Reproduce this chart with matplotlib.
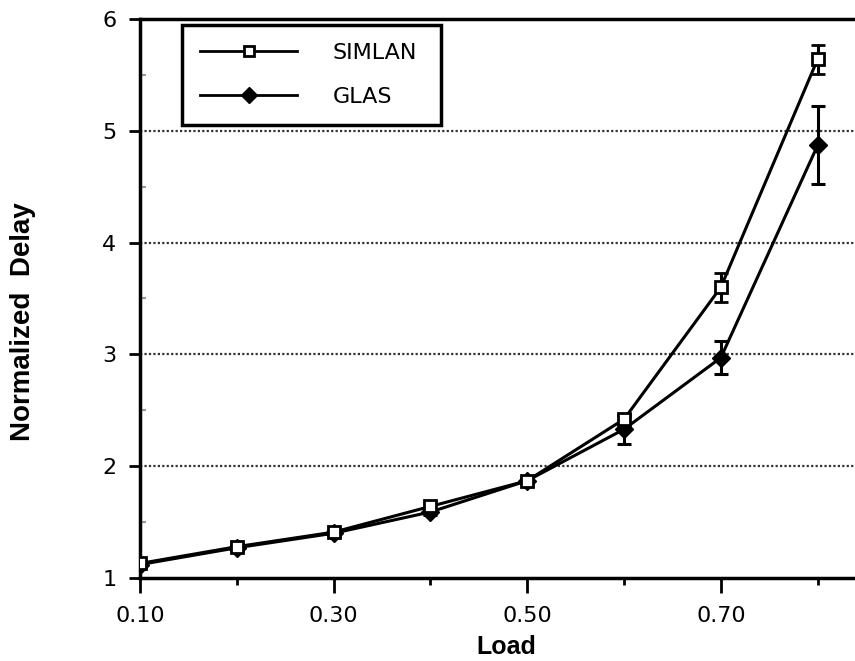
import numpy as np
import matplotlib
matplotlib.use('Agg')
import matplotlib.pyplot as plt
from matplotlib.lines import Line2D
from matplotlib.ticker import FixedLocator, MultipleLocator, FormatStrFormatter

# load values
load = [0.1, 0.2, 0.3, 0.4, 0.5, 0.6, 0.7, 0.8]
simlan = [1.13, 1.28, 1.41, 1.64, 1.87, 2.42, 3.60, 5.64]
simlan_err = [0.02, 0.02, 0.02, 0.03, 0.02, 0.04, 0.13, 0.13]
glas = [1.12, 1.27, 1.40, 1.59, 1.87, 2.33, 2.97, 4.87]
glas_err = [0.02, 0.02, 0.02, 0.03, 0.02, 0.13, 0.15, 0.35]

xticks = [0.1, 0.3, 0.5, 0.7]
xminor = [0.2, 0.4, 0.6, 0.8]

plt.rcParams['font.family'] = ['Liberation Sans', 'DejaVu Sans']

fig = plt.figure(figsize=(8.55, 6.61), dpi=100)
ax = fig.add_axes([0.1637, 0.1256, 0.8363, 0.8457])

ax.errorbar(load, simlan, yerr=simlan_err, color='black', lw=2.2, marker='s',
            ms=9, mfc='white', mec='black', mew=2, capsize=5, capthick=2.2,
            elinewidth=2.2, zorder=4)
ax.errorbar(load, glas, yerr=glas_err, color='black', lw=2.2, marker='D',
            ms=9, mfc='black', mec='black', capsize=5, capthick=2.2,
            elinewidth=2.2, zorder=3)

for yv in [2, 3, 4, 5]:
    ax.axhline(yv, color='#333333', lw=1.6, ls=(0, (1, 1)), zorder=1)

ax.set_xlim(0.1, 0.8386)
ax.set_ylim(1, 6)
ax.xaxis.set_major_locator(FixedLocator(xticks))
ax.xaxis.set_minor_locator(FixedLocator(xminor))
ax.xaxis.set_major_formatter(FormatStrFormatter('%.2f'))
ax.yaxis.set_major_locator(MultipleLocator(1))
ax.yaxis.set_minor_locator(MultipleLocator(0.5))

ax.tick_params(axis='both', which='major', direction='out', length=8, width=2,
               labelsize=16, pad=9)
ax.tick_params(axis='x', which='major', length=11, pad=9)
ax.tick_params(axis='x', which='minor', direction='out', length=5, width=2)
ax.tick_params(axis='y', which='minor', direction='in', length=4, width=1.5,
               color='#999999')
for lab in ax.get_xticklabels() + ax.get_yticklabels():
    lab.set_family('DejaVu Sans')

for side in ['left', 'bottom', 'top']:
    ax.spines[side].set_linewidth(2.5)
ax.spines['right'].set_visible(False)

ax.set_xlabel('Load', fontsize=18, fontweight='bold')
ax.xaxis.set_label_coords(0.513, -0.102)
ax.set_ylabel('Normalized  Delay', fontsize=20, fontweight='bold')
ax.yaxis.set_label_coords(-0.146, 0.458)

handles = [
    Line2D([], [], color='black', lw=2, marker='s', ms=7, mfc='white',
           mec='black', mew=2),
    Line2D([], [], color='black', lw=2, marker='D', ms=8, mfc='black',
           mec='black'),
]
leg = ax.legend(handles, ['SIMLAN', 'GLAS'], loc='upper left',
                bbox_to_anchor=(0.0587, 0.80, 0.3622, 0.1893), mode='expand',
                prop={'family': 'DejaVu Sans', 'size': 16},
                handlelength=4.4, handletextpad=1.58,
                borderpad=0.8, borderaxespad=0, labelspacing=1.1,
                fancybox=False, framealpha=1, edgecolor='black')
leg.get_frame().set_linewidth(2.5)

fig.savefig('out.png', dpi=100)
